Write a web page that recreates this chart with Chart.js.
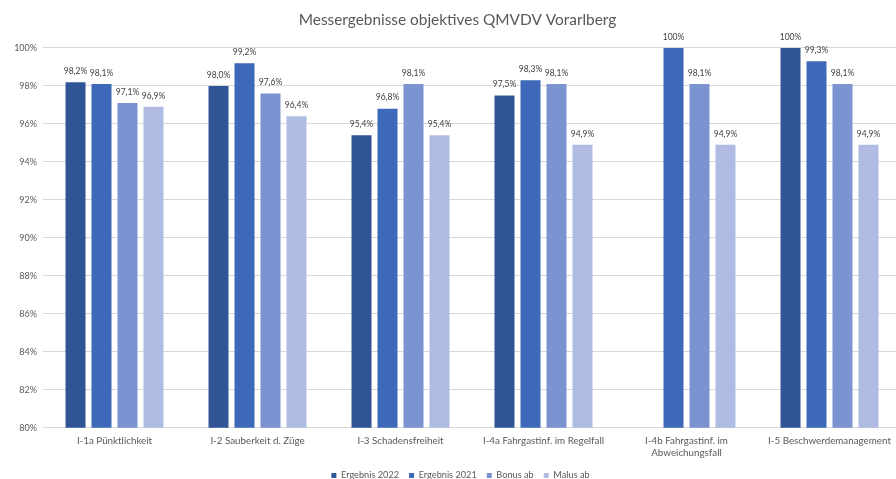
<!DOCTYPE html>
<html>
<head>
<meta charset="utf-8">
<script src="https://cdn.jsdelivr.net/npm/chart.js@4/dist/chart.umd.min.js"></script>
<style>
  html, body { margin: 0; padding: 0; background: #fff; overflow: hidden; }
  #wrap { width: 901px; height: 479px; position: relative; }
</style>
</head>
<body>
<div id="wrap"><canvas id="c"></canvas></div>
<script>
// Kategorien (Messgrößen)
const categories = [
  'I-1a Pünktlichkeit',
  'I-2 Sauberkeit d. Züge',
  'I-3 Schadensfreiheit',
  'I-4a Fahrgastinf. im Regelfall',
  ['I-4b Fahrgastinf. im', 'Abweichungsfall'],
  'I-5 Beschwerdemanagement'
];

// Messwerte in Prozent
const ergebnis2022 = [98.2, 98.0, 95.4, 97.5, null, 100];
const ergebnis2021 = [98.1, 99.2, 96.8, 98.3, 100, 99.3];
const bonusAb      = [97.1, 97.6, 98.1, 98.1, 98.1, 98.1];
const malusAb      = [96.9, 96.4, 95.4, 94.9, 94.9, 94.9];

const seriesNames = ['Ergebnis 2022', 'Ergebnis 2021', 'Bonus ab', 'Malus ab'];
const seriesColors = ['#2f5597', '#3e68b8', '#7b93d0', '#afbbe2'];

const yMin = 80, yMax = 100, yStep = 2;

const FONT = 'Lato, "Open Sans", sans-serif';

function fmtPct(v) {
  if (v === 100) return '100%';
  return v.toFixed(1).replace('.', ',') + '%';
}

// Werte über den Balken
const valueLabels = {
  id: 'valueLabels',
  afterDatasetsDraw(chart) {
    const ctx = chart.ctx;
    ctx.save();
    ctx.font = '8.5px ' + FONT;
    ctx.fillStyle = '#404040';
    ctx.textAlign = 'center';
    ctx.textBaseline = 'middle';
    chart.data.datasets.forEach((ds, i) => {
      const meta = chart.getDatasetMeta(i);
      meta.data.forEach((bar, j) => {
        const v = ds.data[j];
        if (v === null || v === undefined) return;
        ctx.fillText(fmtPct(v), bar.x, bar.y - 11);
      });
    });
    ctx.restore();
  }
};

// Titel und Legende versetzen, zweizeilige Achsenbeschriftung nicht abschneiden
const shiftBlocks = {
  id: 'shiftBlocks',
  afterLayout(chart) {
    if (chart.titleBlock) { chart.titleBlock.left += 7; chart.titleBlock.right += 7; }
    if (chart.legend) {
      chart.legend.left += 10; chart.legend.right += 10;
      chart.legend.top += 11; chart.legend.bottom += 11;
    }
    if (chart.scales.x) { chart.scales.x.bottom = chart.height; }
  }
};

const datasets = [ergebnis2022, ergebnis2021, bonusAb, malusAb].map((d, i) => ({
  label: seriesNames[i],
  data: d,
  backgroundColor: seriesColors[i],
  borderWidth: 0,
  categoryPercentage: 0.727,
  barPercentage: 0.77
}));

new Chart(document.getElementById('c'), {
  type: 'bar',
  data: { labels: categories, datasets },
  plugins: [valueLabels, shiftBlocks],
  options: {
    responsive: true,
    maintainAspectRatio: false,
    animation: false,
    layout: { padding: 0 },
    plugins: {
      title: {
        display: true,
        text: 'Messergebnisse objektives QMVDV Vorarlberg',
        color: '#595959',
        font: { family: FONT, size: 15.4, weight: 'normal' },
        padding: { top: 10.5, bottom: 19 }
      },
      legend: {
        display: true,
        position: 'bottom',
        labels: {
          color: '#595959',
          font: { family: FONT, size: 9.2 },
          boxWidth: 5,
          boxHeight: 5,
          padding: 10
        }
      },
      tooltip: { enabled: false }
    },
    scales: {
      x: {
        grid: { display: false, drawTicks: false },
        border: { display: true, color: '#d9d9d9' },
        ticks: {
          color: '#595959',
          font: { family: FONT, size: 9.8 },
          padding: 7,
          maxRotation: 0,
          autoSkip: false
        },
        afterFit(s) { s.height = 22; }
      },
      y: {
        min: yMin,
        max: yMax,
        grid: { color: '#d9d9d9', drawTicks: false },
        border: { display: false },
        ticks: {
          stepSize: yStep,
          color: '#595959',
          font: { family: FONT, size: 9 },
          padding: 6,
          callback: v => v + '%'
        },
        afterFit(s) { s.width = 43; }
      }
    }
  }
});
</script>
</body>
</html>
